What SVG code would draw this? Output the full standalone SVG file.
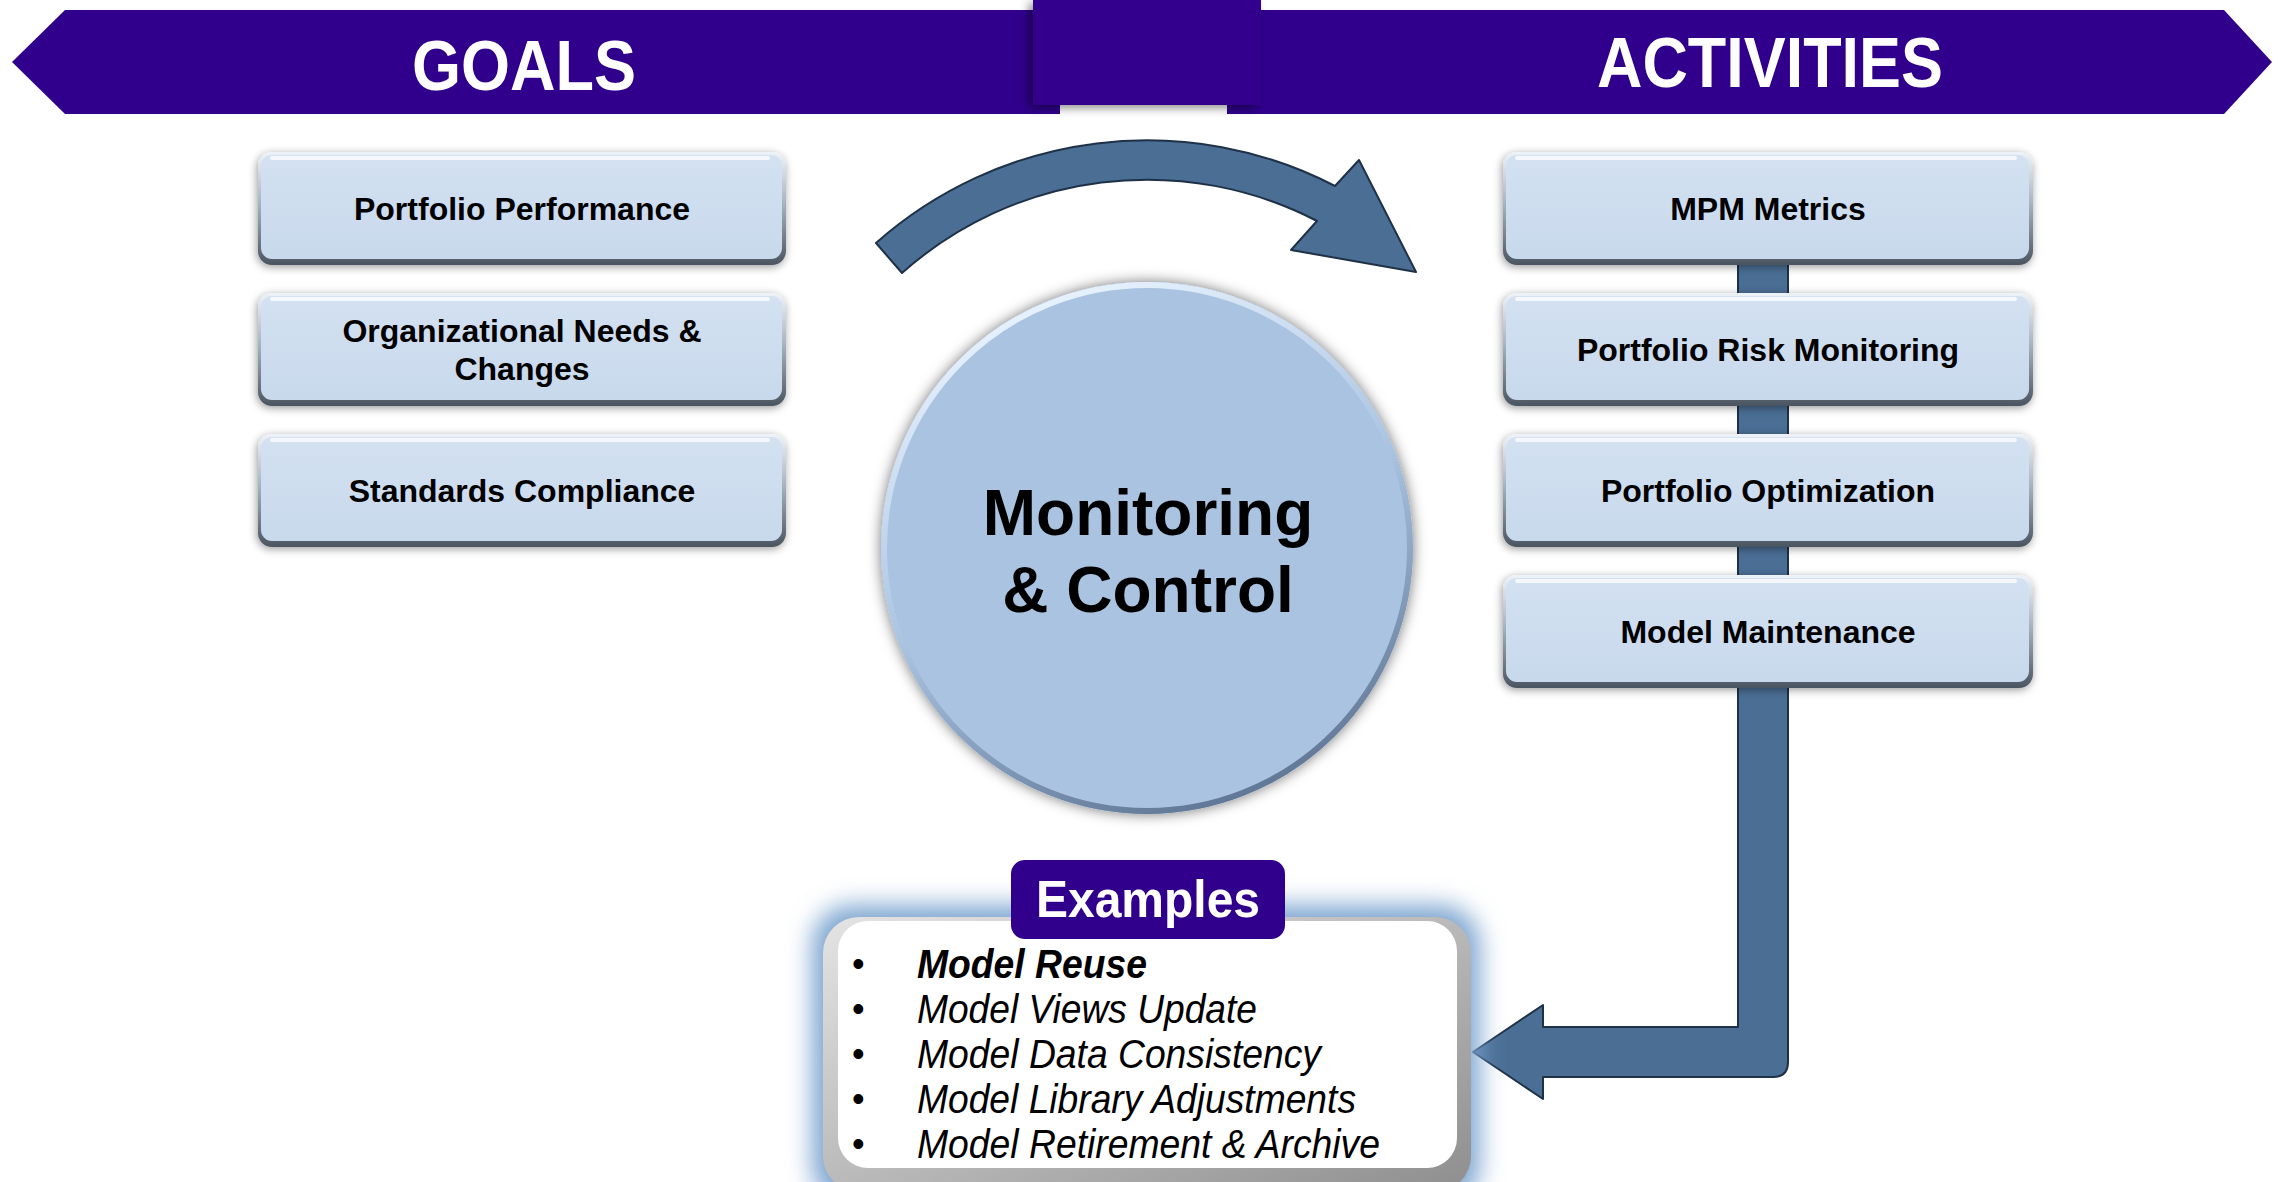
<svg xmlns="http://www.w3.org/2000/svg" width="2282" height="1182" viewBox="0 0 2282 1182">
<style>
.banner{fill:#30008C}
.hdr{font-family:"Liberation Sans",Arial,sans-serif;font-weight:bold;fill:#FFFFFF;text-anchor:middle}
.lbl{font-family:"Liberation Sans",Arial,sans-serif;font-weight:bold;font-size:32px;fill:#000000;text-anchor:middle}
.big{font-size:64px}
.rim{fill:url(#rimG)}
.face{fill:url(#faceG)}
.hl{fill:#FFFFFF;opacity:0.75}
.conn{fill:#4A6E94;stroke:#1F3147;stroke-width:2;stroke-linejoin:round}
.item{font-family:"Liberation Sans",Arial,sans-serif;font-style:italic;font-size:41px;fill:#000000}
.bul{font-family:"Liberation Sans",Arial,sans-serif;font-size:36px;fill:#000000}
</style>
<defs>
<linearGradient id="rimG" x1="0" y1="0" x2="0" y2="1">
<stop offset="0" stop-color="#EEF3F9"/>
<stop offset="0.45" stop-color="#A9B4C1"/>
<stop offset="1" stop-color="#4A5561"/>
</linearGradient>
<linearGradient id="faceG" x1="0" y1="0" x2="0" y2="1">
<stop offset="0" stop-color="#D3E1F1"/>
<stop offset="1" stop-color="#C8D9EC"/>
</linearGradient>
<linearGradient id="ringG" x1="0.3" y1="0" x2="0.7" y2="1">
<stop offset="0" stop-color="#EAF4FF"/>
<stop offset="0.5" stop-color="#A9C3E1"/>
<stop offset="1" stop-color="#5C7391"/>
</linearGradient>
<linearGradient id="panelRim" x1="0" y1="0" x2="1" y2="1">
<stop offset="0" stop-color="#E4E4E4"/>
<stop offset="1" stop-color="#8E8E8E"/>
</linearGradient>
<filter id="sh" x="-10%" y="-20%" width="120%" height="150%">
<feGaussianBlur in="SourceAlpha" stdDeviation="4"/>
<feOffset dx="-1" dy="2" result="b"/>
<feFlood flood-color="#000000" flood-opacity="0.4"/>
<feComposite in2="b" operator="in"/>
<feMerge><feMergeNode/><feMergeNode in="SourceGraphic"/></feMerge>
</filter>
<filter id="csh" x="-10%" y="-10%" width="120%" height="120%">
<feGaussianBlur in="SourceAlpha" stdDeviation="7" result="bl"/>
<feFlood flood-color="#000000" flood-opacity="0.55"/>
<feComposite in2="bl" operator="in"/>
<feMerge><feMergeNode/><feMergeNode in="SourceGraphic"/></feMerge>
</filter>
<filter id="sqsh" x="-20%" y="-10%" width="130%" height="130%">
<feGaussianBlur in="SourceAlpha" stdDeviation="5"/>
<feOffset dx="-4" dy="3" result="b"/>
<feFlood flood-color="#000000" flood-opacity="0.45"/>
<feComposite in2="b" operator="in"/>
<feMerge><feMergeNode/><feMergeNode in="SourceGraphic"/></feMerge>
</filter>
<filter id="glow" x="-10%" y="-15%" width="120%" height="130%">
<feGaussianBlur stdDeviation="12"/>
</filter>
</defs>

<rect width="2282" height="1182" fill="#FFFFFF"/>

<g id="banner-goals">
<polygon class="banner" points="12,62 65,10 1060,10 1060,114 65,114"/>
<text class="hdr" x="524" y="90" font-size="70" textLength="224" lengthAdjust="spacingAndGlyphs">GOALS</text>
</g>
<g id="banner-activities">
<polygon class="banner" points="1227,10 2224,10 2272,62 2224,114 1227,114"/>
<text class="hdr" x="1770" y="87" font-size="70" textLength="346" lengthAdjust="spacingAndGlyphs">ACTIVITIES</text>
</g>
<g id="banner-center">
<rect class="banner" x="1033" y="0" width="228" height="105" filter="url(#sqsh)"/>
</g>

<g id="connectors">
<path id="curved-arrow" class="conn" d="M876,243 A409,409 0 0 1 1335,186 L1359,160 L1416,272 L1291,250 L1317,221 A369,369 0 0 0 902,273 Z"/>
<path id="return-arrow" class="conn" d="M1738,240 L1788,240 L1788,1062 Q1788,1077 1773,1077 L1543,1077 L1543,1099 L1473,1052 L1543,1005 L1543,1027 L1738,1027 Z"/>
</g>

<g id="goal-portfolio-performance">
<rect class="rim" x="258" y="152" width="528" height="113" rx="14" filter="url(#sh)"/>
<rect class="face" x="261" y="155" width="521" height="104" rx="11"/>
<rect class="hl" x="270" y="156" width="500" height="4" rx="2"/>
<text class="lbl" x="522" y="220">Portfolio Performance</text>
</g>
<g id="goal-organizational-needs">
<rect class="rim" x="258" y="293" width="528" height="113" rx="14" filter="url(#sh)"/>
<rect class="face" x="261" y="296" width="521" height="104" rx="11"/>
<rect class="hl" x="270" y="297" width="500" height="4" rx="2"/>
<text class="lbl" x="522" y="342">Organizational Needs &amp;</text>
<text class="lbl" x="522" y="380">Changes</text>
</g>
<g id="goal-standards-compliance">
<rect class="rim" x="258" y="434" width="528" height="113" rx="14" filter="url(#sh)"/>
<rect class="face" x="261" y="437" width="521" height="104" rx="11"/>
<rect class="hl" x="270" y="438" width="500" height="4" rx="2"/>
<text class="lbl" x="522" y="502">Standards Compliance</text>
</g>

<g id="activity-mpm-metrics">
<rect class="rim" x="1503" y="152" width="530" height="113" rx="14" filter="url(#sh)"/>
<rect class="face" x="1506" y="155" width="523" height="104" rx="11"/>
<rect class="hl" x="1515" y="156" width="502" height="4" rx="2"/>
<text class="lbl" x="1768" y="220">MPM Metrics</text>
</g>
<g id="activity-portfolio-risk-monitoring">
<rect class="rim" x="1503" y="293" width="530" height="113" rx="14" filter="url(#sh)"/>
<rect class="face" x="1506" y="296" width="523" height="104" rx="11"/>
<rect class="hl" x="1515" y="297" width="502" height="4" rx="2"/>
<text class="lbl" x="1768" y="361">Portfolio Risk Monitoring</text>
</g>
<g id="activity-portfolio-optimization">
<rect class="rim" x="1503" y="434" width="530" height="113" rx="14" filter="url(#sh)"/>
<rect class="face" x="1506" y="437" width="523" height="104" rx="11"/>
<rect class="hl" x="1515" y="438" width="502" height="4" rx="2"/>
<text class="lbl" x="1768" y="502">Portfolio Optimization</text>
</g>
<g id="activity-model-maintenance">
<rect class="rim" x="1503" y="575" width="530" height="113" rx="14" filter="url(#sh)"/>
<rect class="face" x="1506" y="578" width="523" height="104" rx="11"/>
<rect class="hl" x="1515" y="579" width="502" height="4" rx="2"/>
<text class="lbl" x="1768" y="643">Model Maintenance</text>
</g>

<g id="monitoring-control">
<circle cx="1147" cy="548" r="266" fill="#A9C3E1" filter="url(#csh)"/>
<circle cx="1147" cy="548" r="263" fill="none" stroke="url(#ringG)" stroke-width="6"/>
<text class="lbl big" x="1148" y="535">Monitoring</text>
<text class="lbl big" x="1148" y="612">&amp; Control</text>
</g>

<g id="examples">
<rect x="812" y="905" width="668" height="300" rx="40" fill="#7EA6D0" filter="url(#glow)"/>
<rect x="823" y="917" width="648" height="275" rx="36" fill="url(#panelRim)"/>
<rect x="838" y="921" width="619" height="247" rx="30" fill="#FFFFFF"/>
<rect x="1011" y="860" width="274" height="79" rx="14" class="banner"/>
<text class="hdr" x="1148" y="917" font-size="52" textLength="224" lengthAdjust="spacingAndGlyphs">Examples</text>
<text class="bul" x="852" y="976">•</text>
<text class="bul" x="852" y="1021">•</text>
<text class="bul" x="852" y="1066">•</text>
<text class="bul" x="852" y="1111">•</text>
<text class="bul" x="852" y="1156">•</text>
<text class="item" x="917" y="978" font-weight="bold" textLength="230" lengthAdjust="spacingAndGlyphs">Model Reuse</text>
<text class="item" x="917" y="1023" textLength="340" lengthAdjust="spacingAndGlyphs">Model Views Update</text>
<text class="item" x="917" y="1068" textLength="404" lengthAdjust="spacingAndGlyphs">Model Data Consistency</text>
<text class="item" x="917" y="1113" textLength="439" lengthAdjust="spacingAndGlyphs">Model Library Adjustments</text>
<text class="item" x="917" y="1158" textLength="463" lengthAdjust="spacingAndGlyphs">Model Retirement &amp; Archive</text>
</g>
</svg>
